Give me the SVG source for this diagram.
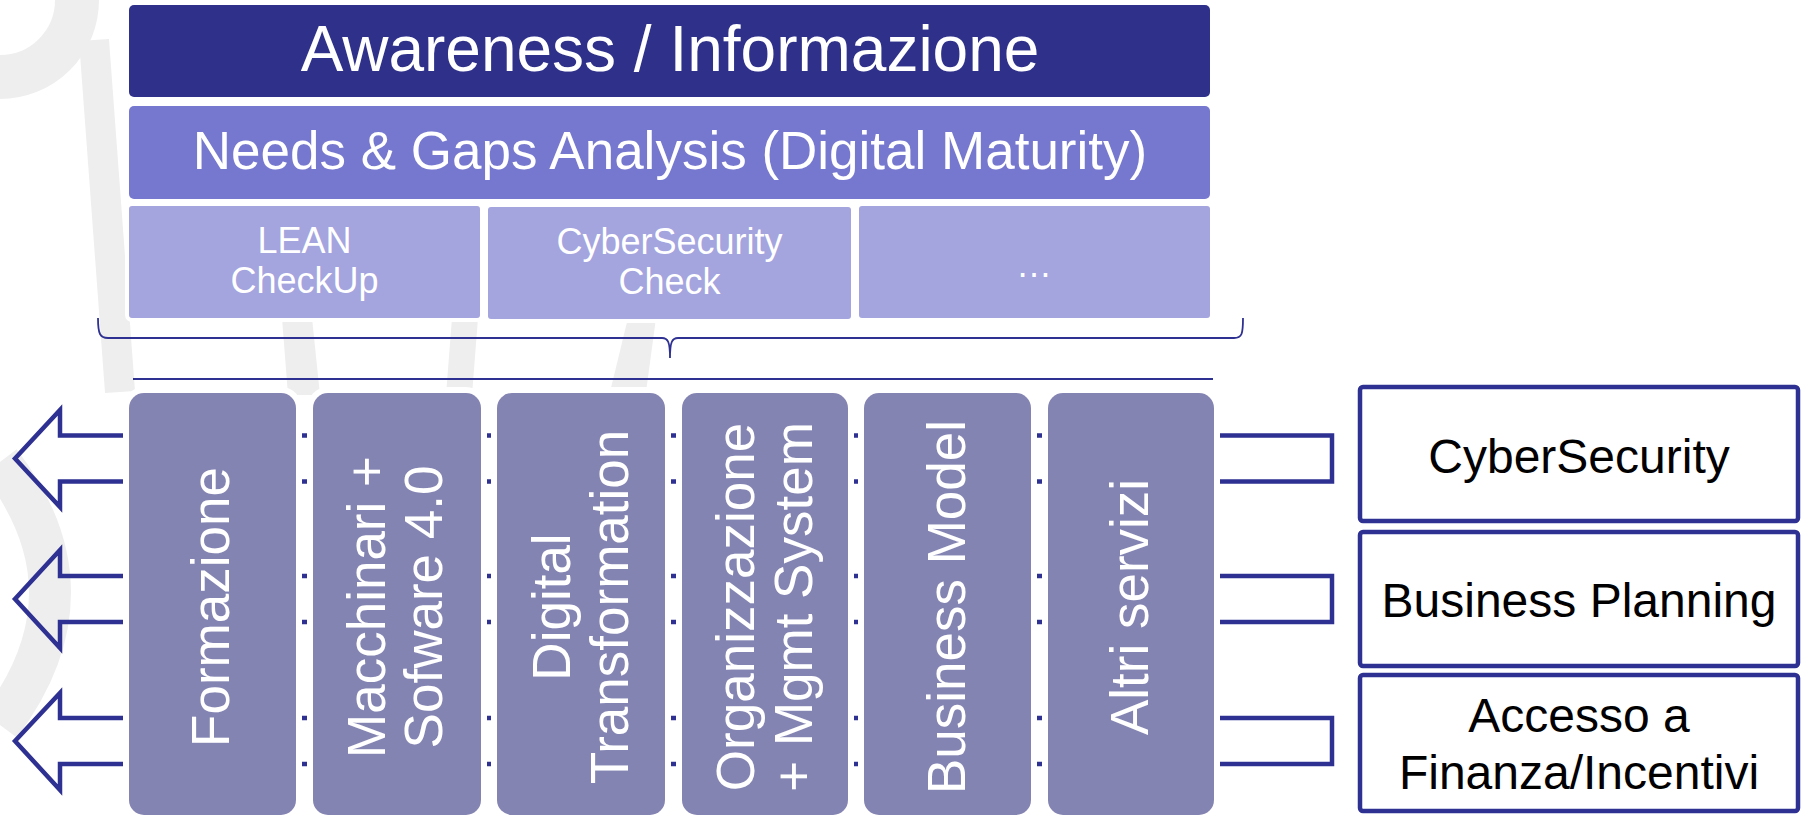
<svg xmlns="http://www.w3.org/2000/svg" width="1804" height="817" viewBox="0 0 1804 817">
<style>
text{font-family:"Liberation Sans",Arial,sans-serif}
.wm{fill:none;stroke:#EEEEEE}
.wmf{fill:#EEEEEE}
.halo{stroke:#fff;paint-order:stroke}
.w{fill:#fff}
.col{fill:#8484B3;stroke:#fff;stroke-width:12;paint-order:stroke}
.ct{fill:#fff;font-size:53px;text-anchor:middle}
.conn{fill:none;stroke:#2E3192;stroke-width:4.5;stroke-linejoin:miter}
.rb{fill:#fff;stroke:#2E3192;stroke-width:4.5}
.rt{fill:#000;font-size:48px;text-anchor:middle}
.sub{fill:#A4A4DF;stroke:#fff;stroke-width:8;paint-order:stroke}
.st{fill:#fff;font-size:36px;text-anchor:middle}
</style>
<rect width="1804" height="817" fill="#fff"/>
<g id="watermark">
<path class="wm" d="M77,0 A77,77 0 0 1 0,77" stroke-width="44"/>
<path class="wm" d="M94,40 L120,392" stroke-width="30"/>
<path class="wm" d="M0,462 Q100,592 0,725" stroke-width="42"/>
<path class="wmf" d="M282,318 L312,318 L320,395 L288,395 Z"/>
<path class="wmf" d="M452,318 L478,318 L472,395 L446,395 Z"/>
<path class="wmf" d="M628,318 L656,318 L646,392 L610,392 Z"/>
</g>
<g id="awareness">
<rect x="129" y="5" width="1081" height="92" rx="5" fill="#2E3089" class="halo" stroke-width="8"/>
<text x="670" y="71" class="w" font-size="64" text-anchor="middle">Awareness / Informazione</text>
</g>
<g id="needs">
<rect x="129" y="106" width="1081" height="93" rx="5" fill="#7677CF" class="halo" stroke-width="8"/>
<text x="670" y="169" class="w" font-size="53" text-anchor="middle">Needs &amp; Gaps Analysis (Digital Maturity)</text>
</g>
<g id="lean">
<rect x="129" y="206" width="351" height="112" rx="3" class="sub"/>
<text x="304.5" y="253" class="st">LEAN</text>
<text x="304.5" y="293" class="st">CheckUp</text>
</g>
<g id="cybercheck">
<rect x="488" y="207" width="363" height="112" rx="3" class="sub"/>
<text x="669.5" y="254" class="st">CyberSecurity</text>
<text x="669.5" y="294" class="st">Check</text>
</g>
<g id="more">
<rect x="859" y="206" width="351" height="112" rx="3" class="sub"/>
<text x="1034" y="277" class="st">…</text>
</g>
<g id="brace">
<path d="M98,318 C98,334 100,338 108,338 L662,338 C668,338 670,342 670,358 C670,342 672,338 678,338 L1234,338 C1242,338 1243,334 1243,318" fill="none" stroke="#2E3192" stroke-width="1.8"/>
<path d="M133,379 L1213,379" stroke="#2E3192" stroke-width="2"/>
</g>
<g id="connectors">
<path class="conn" d="M15,458.5 L60,410 L60,435.5 L1332,435.5 L1332,481.5 L60,481.5 L60,507 Z"/>
<path class="conn" d="M15,599 L60,550 L60,576 L1332,576 L1332,622 L60,622 L60,648 Z"/>
<path class="conn" d="M15,741 L60,693 L60,718 L1332,718 L1332,764 L60,764 L60,790 Z"/>
</g>
<g id="formazione">
<rect x="129" y="393" width="167" height="422" rx="15" class="col"/>
<text class="ct" transform="translate(229,607) rotate(-90)">Formazione</text>
</g>
<g id="macchinari">
<rect x="313" y="393" width="168" height="422" rx="15" class="col"/>
<text class="ct" transform="translate(385,607) rotate(-90)">Macchinari +</text>
<text class="ct" transform="translate(442,607) rotate(-90)">Sofware 4.0</text>
</g>
<g id="digital">
<rect x="497" y="393" width="168" height="422" rx="15" class="col"/>
<text class="ct" transform="translate(570,607) rotate(-90)">Digital</text>
<text class="ct" transform="translate(628,607) rotate(-90)">Transformation</text>
</g>
<g id="organizzazione">
<rect x="682" y="393" width="166" height="422" rx="15" class="col"/>
<text class="ct" transform="translate(754,607) rotate(-90)">Organizzazione</text>
<text class="ct" transform="translate(812,607) rotate(-90)">+ Mgmt System</text>
</g>
<g id="businessmodel">
<rect x="864" y="393" width="167" height="422" rx="15" class="col"/>
<text class="ct" transform="translate(965,607) rotate(-90)">Business Model</text>
</g>
<g id="altri">
<rect x="1048" y="393" width="166" height="422" rx="15" class="col"/>
<text class="ct" transform="translate(1148,607) rotate(-90)">Altri servizi</text>
</g>
<g id="cybersecurity">
<rect x="1360" y="387" width="438" height="134" rx="3" class="rb"/>
<text x="1579" y="473" class="rt">CyberSecurity</text>
</g>
<g id="businessplanning">
<rect x="1360" y="532" width="438" height="134" rx="3" class="rb"/>
<text x="1579" y="617" class="rt">Business Planning</text>
</g>
<g id="finanza">
<rect x="1360" y="675" width="438" height="136" rx="3" class="rb"/>
<text x="1579" y="732" class="rt">Accesso a</text>
<text x="1579" y="789" class="rt">Finanza/Incentivi</text>
</g>
</svg>
